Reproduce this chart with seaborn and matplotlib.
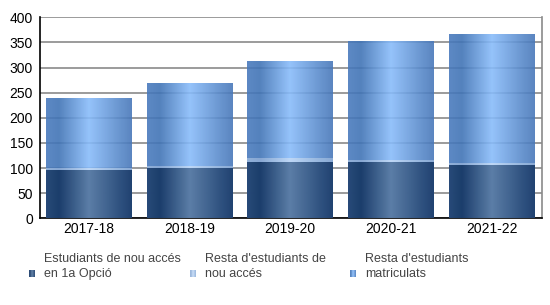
import numpy as np
import pandas as pd
import matplotlib
matplotlib.use("Agg")
import matplotlib.pyplot as plt
import seaborn as sns
from matplotlib.colors import to_rgb
from matplotlib.patches import Rectangle

categories = ['2017-18', '2018-19', '2019-20', '2020-21', '2021-22']
first_option = [95, 99, 111, 110, 104]
other_new = [3, 4, 7, 4, 4]
rest_enrolled = [139, 164, 193, 237, 257]
series_labels = ["Estudiants de nou accés\nen 1a Opció",
                 "Resta d'estudiants de\nnou accés",
                 "Resta d'estudiants\nmatriculats"]
y_ticks = [0, 50, 100, 150, 200, 250, 300, 350, 400]

sns.set_theme(style="white")
plt.rcParams['font.family'] = ['Liberation Sans', 'DejaVu Sans']

# gradient stops (position, colour) per series
grad_stops = [
    [(0.0, '#33527c'), (0.15, '#274670'), (0.5, '#6282a8'), (0.85, '#3b5a84'), (1.0, '#2c4b75')],
    [(0.0, '#a3bddf'), (0.15, '#98b4da'), (0.5, '#c9def7'), (0.85, '#a6c1e3'), (1.0, '#9bb7dc')],
    [(0.0, '#5c88c4'), (0.15, '#5482bd'), (0.5, '#95c3fb'), (0.85, '#6a96d0'), (1.0, '#5a85c0')],
]
ALPHA = 0.9


def gradient(stops, n=200):
    pos = [s[0] for s in stops]
    cols = np.array([to_rgb(s[1]) for s in stops])
    xs = np.linspace(0, 1, n)
    return np.stack([np.interp(xs, pos, cols[:, k]) for k in range(3)], axis=-1)


grads = [gradient(s) for s in grad_stops]
# pre-compensate for transparency over white so visible colours match
grads_comp = [np.clip((g - (1 - ALPHA)) / ALPHA, 0, 1) for g in grads]

first_option_a = np.array(first_option)
cum2 = first_option_a + np.array(other_new)
cum3 = cum2 + np.array(rest_enrolled)

df = pd.DataFrame({'year': categories, 'total': cum3, 'new': cum2, 'first': first_option_a})

fig = plt.figure(figsize=(5.5, 3.05), dpi=100)
ax = fig.add_axes([40 / 550, 1 - 218.3 / 305, (541.7 - 40) / 550, (218.3 - 17.3) / 305])

layers = [('total', 2), ('new', 1), ('first', 0)]
for col, si in layers:
    sns.barplot(data=df, x='year', y=col, ax=ax, width=0.85, color='white',
                saturation=1, linewidth=0, errorbar=None)

xlim = (-0.485, 4.497)
patches = list(ax.patches)
n = len(categories)
for li, (col, si) in enumerate(layers):
    for p in patches[li * n:(li + 1) * n]:
        x0, y0, w, h = p.get_x(), p.get_y(), p.get_width(), p.get_height()
        img = grads_comp[si][np.newaxis, :, :]
        ax.imshow(img, extent=(x0, x0 + w, y0, y0 + h), aspect='auto',
                  interpolation='bilinear', zorder=2 + li, alpha=ALPHA)
        p.set_visible(False)

ax.set_xlim(*xlim)
ax.set_ylim(0, 400)
ax.set_yticks(y_ticks)
ax.set_yticklabels([str(t) for t in y_ticks])
ax.yaxis.grid(True, color='#8a8a8a', linewidth=1.2, zorder=1)
ax.set_axisbelow(True)
ax.set_xlabel('')
ax.set_ylabel('')
ax.tick_params(axis='both', length=0, labelsize=10, colors='black')
ax.tick_params(axis='y', pad=5)
ax.tick_params(axis='x', pad=3)
for s in ['left', 'bottom']:
    ax.spines[s].set_color('black')
    ax.spines[s].set_linewidth(1.2)
ax.spines['right'].set_color('#8a8a8a')
ax.spines['right'].set_linewidth(1.2)
ax.spines['top'].set_visible(False)
ax.set_facecolor('white')

# legend, laid out as in the reference (fixed-width columns)
col_x = [29, 190, 350]
for i, lab in enumerate(series_labels):
    hx = col_x[i]
    hy = 270
    nstrip = 6
    for k in range(nstrip):
        c = grads[i][int((k + 0.5) / nstrip * 199)]
        fig.patches.append(Rectangle(((hx + k) / 550, 1 - (hy + 7) / 305), 1 / 550, 7 / 305,
                                     transform=fig.transFigure, facecolor=c, edgecolor='none'))
    fig.text((hx + 15) / 550, 1 - 266.5 / 305, lab, fontsize=9, color='#444444',
             ha='left', va='center', linespacing=1.35)

fig.savefig('out.png', dpi=100, facecolor='white')
